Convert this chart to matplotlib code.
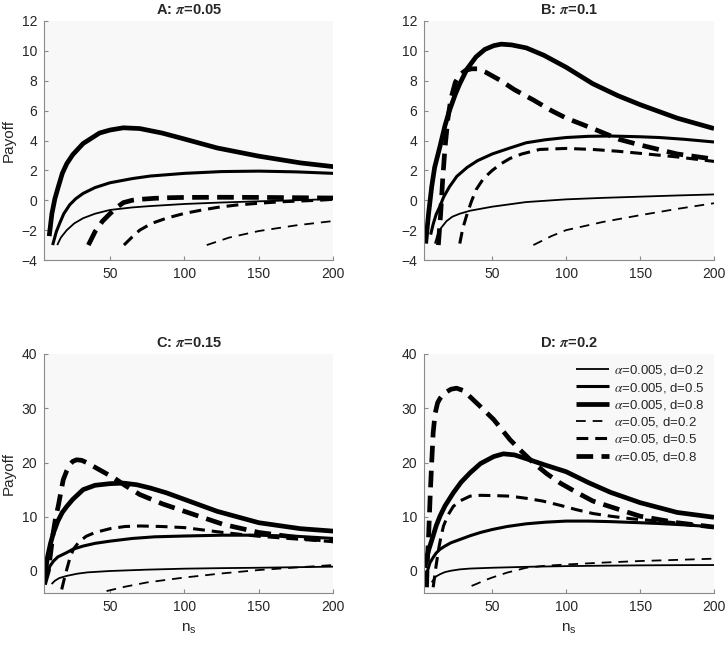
import matplotlib
matplotlib.use("Agg")
import matplotlib.pyplot as plt

plt.rcParams['font.family'] = ['Liberation Sans', 'DejaVu Sans']
plt.rcParams['mathtext.fontset'] = 'stix'
plt.rcParams['lines.scale_dashes'] = False

# ---------------- data ----------------
series_labels = [r'$\alpha$=0.005, d=0.2', r'$\alpha$=0.005, d=0.5', r'$\alpha$=0.005, d=0.8',
                 r'$\alpha$=0.05, d=0.2', r'$\alpha$=0.05, d=0.5', r'$\alpha$=0.05, d=0.8']
panel_titles = [r'A: $\boldsymbol{\pi}$=0.05', r'B: $\boldsymbol{\pi}$=0.1',
                r'C: $\boldsymbol{\pi}$=0.15', r'D: $\boldsymbol{\pi}$=0.2']
x_ticks = [50, 100, 150, 200]
y_ticks_top = [-4, -2, 0, 2, 4, 6, 8, 10, 12]
y_ticks_bottom = [0, 10, 20, 30, 40]

# Panel A (pi = 0.05)
A_s02_x = [14.6, 17, 21, 26, 32, 40, 50, 65, 77, 100, 125, 150, 175, 200]
A_s02_y = [-3.0, -2.5, -2.0, -1.55, -1.2, -0.9, -0.65, -0.48, -0.39, -0.25, -0.15, -0.07, 0.0, 0.08]
A_s05_x = [11.5, 14, 16.4, 19, 23, 27, 32, 40, 50, 65, 77, 100, 125, 150, 175, 200]
A_s05_y = [-3.0, -2.1, -1.5, -0.9, -0.3, 0.1, 0.46, 0.85, 1.17, 1.45, 1.62, 1.8, 1.92, 1.95, 1.9, 1.8]
A_s08_x = [9.2, 11, 13, 15.3, 18, 21, 25, 32, 43, 50, 59, 70, 85, 100, 122, 150, 178, 200]
A_s08_y = [-2.4, -0.9, 0.1, 0.9, 1.8, 2.45, 3.05, 3.8, 4.5, 4.7, 4.85, 4.8, 4.5, 4.1, 3.5, 2.95, 2.5, 2.25]
A_d02_x = [115, 130, 150, 175, 200]
A_d02_y = [-3.0, -2.5, -2.06, -1.68, -1.39]
A_d05_x = [59.4, 65, 70, 78, 88, 100, 112, 122, 135, 150, 165, 178, 190, 200]
A_d05_y = [-3.0, -2.45, -2.0, -1.55, -1.2, -0.88, -0.65, -0.48, -0.32, -0.2, -0.1, -0.05, 0.0, 0.06]
A_d08_x = [35.5, 40, 45, 50, 55, 59, 65, 70, 80, 90, 100, 125, 150, 175, 200]
A_d08_y = [-3.0, -2.1, -1.4, -0.9, -0.45, -0.16, 0.0, 0.06, 0.13, 0.17, 0.19, 0.2, 0.19, 0.17, 0.15]

# Panel B (pi = 0.1)
B_s02_x = [11.2, 13, 15, 19, 23, 28, 35, 50, 73, 100, 125, 150, 175, 200]
B_s02_y = [-2.9, -2.3, -1.9, -1.4, -1.1, -0.9, -0.7, -0.43, -0.12, 0.06, 0.16, 0.24, 0.32, 0.39]
B_s05_x = [8.3, 10, 12, 14.6, 17, 21, 26, 33, 40, 50, 62, 73, 86, 100, 115, 130, 150, 163, 180, 200]
B_s05_y = [-2.3, -1.6, -0.95, -0.4, 0.2, 0.9, 1.6, 2.2, 2.65, 3.1, 3.5, 3.85, 4.05, 4.2, 4.28, 4.3, 4.25, 4.2, 4.08, 3.9]
B_s08_x = [4.9, 6, 7, 9, 11, 14.6, 18, 21, 25, 28, 33, 39, 45, 51, 56, 63, 73, 85, 100, 118, 135, 150, 175, 200]
B_s08_y = [-2.9, -1.8, -0.8, 0.9, 2.2, 3.6, 5.0, 6.0, 7.1, 7.8, 8.8, 9.6, 10.1, 10.35, 10.45, 10.4, 10.2, 9.7, 8.9, 7.8, 7.0, 6.4, 5.5, 4.8]
B_d02_x = [77.8, 90, 100, 125, 150, 175, 200]
B_d02_y = [-3.0, -2.4, -2.0, -1.45, -1.0, -0.58, -0.2]
B_d05_x = [28, 30, 33, 36, 39, 44, 50, 56, 62, 70, 82, 100, 118, 135, 150, 175, 200]
B_d05_y = [-2.9, -1.9, -0.9, -0.05, 0.7, 1.45, 2.0, 2.45, 2.8, 3.1, 3.4, 3.47, 3.4, 3.28, 3.14, 2.9, 2.6]
B_d08_x = [13.5, 15, 16.5, 18, 20, 22, 25, 28, 32, 36, 40, 45, 55, 65, 78, 90, 100, 118, 136, 150, 175, 200]
B_d08_y = [-3.0, -1.0, 1.5, 3.5, 5.5, 6.8, 7.9, 8.4, 8.7, 8.8, 8.8, 8.6, 8.05, 7.4, 6.7, 6.0, 5.5, 4.8, 4.07, 3.7, 3.1, 2.75]

# Panel C (pi = 0.15)
C_s02_x = [10.8, 13, 16, 21, 28, 35, 50, 75, 100, 125, 150, 175, 200]
C_s02_y = [-2.4, -1.8, -1.3, -0.9, -0.5, -0.25, 0.0, 0.25, 0.43, 0.53, 0.6, 0.7, 0.8]
C_s05_x = [6.5, 8, 9.7, 12, 15, 21, 25, 32, 40, 50, 65, 80, 100, 125, 150, 175, 200]
C_s05_y = [-2.0, -0.3, 0.9, 1.8, 2.6, 3.4, 4.0, 4.6, 5.1, 5.5, 6.0, 6.3, 6.45, 6.6, 6.6, 6.4, 6.0]
C_s08_x = [6, 7, 8, 10, 12, 15, 18, 21, 25, 32, 40, 50, 59, 68, 77, 88, 100, 122, 150, 178, 200]
C_s08_y = [-2.0, 0.5, 2.5, 5.0, 7.0, 9.2, 10.8, 11.9, 13.2, 15.0, 15.8, 16.1, 16.2, 15.9, 15.3, 14.4, 13.2, 11.0, 8.9, 7.8, 7.35]
C_d02_x = [47.7, 60, 75, 100, 125, 150, 175, 200]
C_d02_y = [-3.7, -2.9, -2.1, -1.2, -0.45, 0.18, 0.65, 1.1]
C_d05_x = [17.6, 19, 21, 23, 25.4, 29, 34, 40, 50, 60, 70, 85, 100, 126, 150, 175, 200]
C_d05_y = [-3.4, -1.8, 0.3, 2.3, 4.0, 5.3, 6.4, 7.1, 7.8, 8.2, 8.3, 8.2, 8.0, 7.1, 6.4, 5.9, 5.4]
C_d08_x = [6, 7, 8.6, 10, 11.9, 13.5, 15.3, 17, 18.6, 21, 23, 25, 27.6, 31, 35, 42, 52.5, 60, 70, 85, 100, 126, 150, 175, 200]
C_d08_y = [-2.5, -1.5, 0.0, 3.0, 7.1, 9.8, 12.0, 14.5, 16.8, 18.5, 19.6, 20.2, 20.5, 20.4, 19.9, 18.8, 17.2, 15.8, 14.1, 12.4, 11.0, 8.6, 7.1, 6.2, 5.55]

# Panel D (pi = 0.2)
D_s02_x = [9, 10.5, 12, 14.6, 18, 22, 28, 35, 50, 75, 100, 125, 150, 175, 200]
D_s02_y = [-2.1, -1.5, -1.0, -0.6, -0.2, 0.05, 0.3, 0.45, 0.6, 0.78, 0.9, 0.98, 1.04, 1.08, 1.1]
D_s05_x = [4.4, 5.5, 7, 7.8, 10, 12, 14.6, 18, 22, 28, 35, 42, 50, 60, 73, 86, 100, 115, 130, 150, 163, 180, 200]
D_s05_y = [-2.1, -0.6, 0.8, 1.5, 2.5, 3.3, 4.0, 4.6, 5.2, 5.8, 6.5, 7.1, 7.65, 8.2, 8.7, 9.0, 9.2, 9.2, 9.1, 8.9, 8.75, 8.5, 8.15]
D_s08_x = [4.4, 5.5, 7, 7.8, 10, 12, 14.6, 18, 23.6, 29, 35, 42, 51, 57.5, 65, 73, 85, 100, 115, 130, 150, 175, 200]
D_s08_y = [0.6, 2.2, 3.9, 4.6, 6.5, 8.3, 10.1, 12.0, 14.4, 16.4, 18.1, 19.8, 21.1, 21.6, 21.4, 20.7, 19.6, 18.3, 16.3, 14.5, 12.6, 10.8, 9.9]
D_d02_x = [36, 40, 45, 50, 60, 73, 85, 100, 125, 150, 175, 200]
D_d02_y = [-2.75, -2.3, -1.7, -1.2, -0.3, 0.6, 0.95, 1.2, 1.55, 1.84, 2.05, 2.27]
D_d05_x = [10, 11, 12, 13, 14, 15.5, 17, 20, 23.6, 28, 35, 42, 51, 62, 73, 84, 96, 107, 118, 130, 145, 163, 180, 200]
D_d05_y = [-3.0, -1.0, 1.0, 2.8, 4.5, 6.6, 8.3, 10.3, 11.9, 12.9, 13.8, 13.95, 13.9, 13.8, 13.4, 12.9, 12.1, 11.3, 10.6, 10.1, 9.6, 9.2, 8.7, 8.0]
D_d08_x = [5.5, 6, 7, 8, 9, 10, 11.3, 13, 14.6, 17, 19, 22, 25.8, 30, 35, 42, 51, 62, 70, 78, 87, 96, 107, 118, 135, 150, 175, 200]
D_d08_y = [-3.0, 1.5, 7.0, 14.0, 20.0, 25.5, 29.0, 31.0, 31.8, 32.6, 33.0, 33.5, 33.7, 33.3, 32.1, 30.3, 27.9, 24.2, 22.0, 19.9, 17.9, 16.2, 14.5, 12.9, 11.4, 10.1, 8.9, 8.1]

panels = [
    [(A_s02_x, A_s02_y), (A_s05_x, A_s05_y), (A_s08_x, A_s08_y),
     (A_d02_x, A_d02_y), (A_d05_x, A_d05_y), (A_d08_x, A_d08_y)],
    [(B_s02_x, B_s02_y), (B_s05_x, B_s05_y), (B_s08_x, B_s08_y),
     (B_d02_x, B_d02_y), (B_d05_x, B_d05_y), (B_d08_x, B_d08_y)],
    [(C_s02_x, C_s02_y), (C_s05_x, C_s05_y), (C_s08_x, C_s08_y),
     (C_d02_x, C_d02_y), (C_d05_x, C_d05_y), (C_d08_x, C_d08_y)],
    [(D_s02_x, D_s02_y), (D_s05_x, D_s05_y), (D_s08_x, D_s08_y),
     (D_d02_x, D_d02_y), (D_d05_x, D_d05_y), (D_d08_x, D_d08_y)],
]

# ---------------- styling ----------------
widths = [1.3, 2.2, 3.4, 1.3, 2.2, 3.4]
styles = ['-', '-', '-', (0, (7, 5)), (0, (8.5, 5)), (0, (12, 6))]

fig = plt.figure(figsize=(7.28, 6.46), dpi=100)
W, H = 728.0, 646.0
boxes = [
    (44.3, 21, 333.3, 260),
    (424.3, 21, 714, 260),
    (44.3, 354, 333.3, 592.7),
    (424.3, 354, 714, 592.7),
]
xlims = [(5.9, 200), (4, 200), (5.9, 200), (4, 200)]
ylims = [(-4, 12), (-4, 12), (-4, 40), (-4, 40)]
spine_col = '#8a8a8a'
txt_col = '#262626'

for i, (l, t, r, b) in enumerate(boxes):
    ax = fig.add_axes([l / W, 1 - b / H, (r - l) / W, (b - t) / H])
    ax.set_facecolor('#f8f8f8')
    for j, (xs, ys) in enumerate(panels[i]):
        ax.plot(xs, ys, color='black', lw=widths[j], linestyle=styles[j],
                label=series_labels[j], solid_capstyle='butt', dash_capstyle='butt')
    ax.set_xlim(*xlims[i])
    ax.set_ylim(*ylims[i])
    ax.set_xticks(x_ticks)
    ax.set_yticks(y_ticks_top if i < 2 else y_ticks_bottom)
    for s in ['top', 'right']:
        ax.spines[s].set_visible(False)
    for s in ['left', 'bottom']:
        ax.spines[s].set_color(spine_col)
        ax.spines[s].set_linewidth(0.8)
    ax.tick_params(direction='in', length=3, width=0.8, color=spine_col,
                   labelsize=10, labelcolor=txt_col, pad=5)
    ax.set_title(panel_titles[i], fontsize=10.5, fontweight='bold', color=txt_col, pad=5)
    if i in (0, 2):
        ax.set_ylabel('Payoff', fontsize=11, color=txt_col, labelpad=4)
    if i in (2, 3):
        ax.set_xlabel(r'n$_\mathregular{s}$', fontsize=11, color=txt_col, labelpad=6)
    if i == 3:
        leg = ax.legend(loc='upper right', frameon=False, fontsize=9.5,
                        handlelength=2.5, handletextpad=0.4, labelspacing=0.25,
                        borderaxespad=0.3, bbox_to_anchor=(1.0, 1.0))
        for txt in leg.get_texts():
            txt.set_color(txt_col)

fig.savefig('out.png', dpi=100, facecolor='white')
